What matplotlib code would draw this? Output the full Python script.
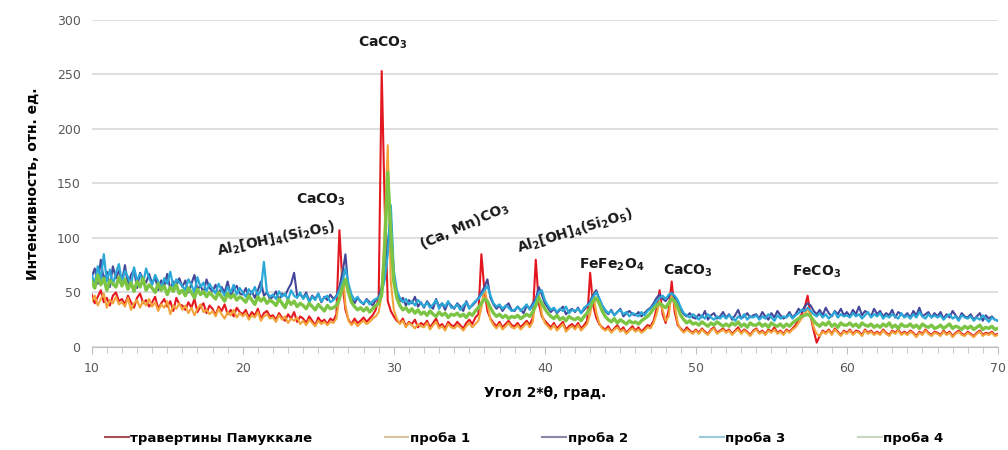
import numpy as np
import matplotlib
matplotlib.use("Agg")
import matplotlib.pyplot as plt
from matplotlib.lines import Line2D

# angle grid, 0.2 deg step (10.0 ... 70.0)
angle = np.round(np.arange(10, 70.01, 0.2), 1)

# intensities, one row = 2 degrees
travertine = [
    48, 40, 46, 52, 41, 45, 38, 47, 50, 42,
    44, 39, 47, 41, 36, 45, 49, 40, 43, 37,
    41, 46, 35, 40, 44, 37, 42, 33, 45, 39,
    38, 34, 41, 36, 44, 32, 37, 40, 31, 38,
    35, 29, 37, 33, 39, 30, 34, 28, 36, 32,
    30, 34, 27, 32, 29, 35, 26, 31, 33, 28,
    29, 25, 31, 27, 24, 30, 26, 32, 23, 28,
    26, 22, 28, 24, 20, 27, 23, 25, 21, 26,
    24, 30, 107, 58, 34, 25, 21, 26, 22, 24,
    27, 23, 26, 29, 34, 46, 253, 128, 42, 33,
    28, 24, 22, 26, 19, 23, 21, 25, 18, 22,
    20, 24, 18, 22, 26, 19, 21, 17, 23, 20,
    19, 23, 20, 17, 22, 25, 21, 27, 30, 85,
    52, 33, 26, 22, 19, 23, 18, 21, 24, 20,
    19, 22, 18, 21, 24, 20, 27, 80, 40, 28,
    24, 21, 18, 22, 17, 20, 23, 16, 19, 21,
    18, 22, 17, 20, 24, 68, 38, 27, 21, 18,
    16, 19, 14, 17, 20, 15, 18, 13, 16, 19,
    15, 18, 14, 17, 20, 19, 24, 35, 52, 30,
    22, 34, 60, 32, 20, 17, 14, 18, 15, 13,
    16, 13, 17, 14, 12, 16, 18, 13, 15, 17,
    14, 16, 12, 15, 18, 13, 16, 14, 11, 15,
    17, 13, 15, 12, 16, 14, 18, 13, 15, 12,
    16, 14, 17, 20, 25, 30, 36, 47, 28, 15,
    4, 10, 15, 13, 16, 12, 17, 14, 11, 15,
    13, 16, 12, 15, 14, 11, 16, 13, 15, 12,
    14, 12, 16, 13, 11, 15, 13, 16, 12, 14,
    12, 15, 13, 10, 14, 12, 16, 13, 11, 14,
    13, 11, 15, 12, 14, 10, 13, 15, 12, 11,
    14, 12, 10, 13, 15, 11, 13, 12, 14, 11,
    12]

sample1 = [
    42, 47, 38, 44, 49, 36, 43, 40, 46, 39,
    41, 37, 45, 34, 40, 43, 36, 42, 38, 44,
    37, 41, 33, 39, 36, 42, 30, 38, 35, 40,
    34, 38, 31, 36, 29, 35, 39, 32, 34, 30,
    33, 28, 35, 30, 26, 32, 29, 34, 27, 31,
    28, 31, 25, 29, 27, 32, 24, 28, 30, 26,
    27, 23, 29, 25, 28, 22, 26, 24, 27, 21,
    24, 20, 25, 22, 19, 24, 21, 23, 20, 23,
    22, 26, 45, 72, 38, 24, 20, 23, 19, 22,
    24, 21, 23, 26, 28, 32, 48, 110, 185, 60,
    34, 26, 21, 24, 18, 22, 20, 17, 21, 19,
    18, 22, 16, 20, 23, 17, 19, 15, 21, 18,
    17, 20, 18, 15, 19, 22, 18, 21, 24, 36,
    55, 40, 25, 20, 17, 21, 16, 19, 22, 18,
    17, 20, 16, 19, 22, 18, 23, 45, 50, 30,
    22, 19, 16, 20, 15, 18, 21, 14, 17, 19,
    16, 20, 15, 18, 21, 30, 50, 32, 22, 17,
    15, 17, 13, 16, 18, 14, 16, 12, 15, 17,
    14, 16, 13, 15, 18, 17, 22, 30, 42, 34,
    24, 28, 50, 38, 22, 16, 13, 16, 14, 12,
    15, 12, 16, 13, 11, 15, 17, 12, 14, 16,
    13, 15, 11, 14, 16, 12, 15, 13, 10, 14,
    16, 12, 14, 11, 15, 13, 16, 12, 14, 11,
    15, 13, 16, 18, 22, 26, 30, 35, 30, 18,
    12, 10, 14, 12, 15, 11, 16, 13, 10, 14,
    12, 15, 11, 14, 13, 10, 15, 12, 14, 11,
    13, 11, 15, 12, 10, 14, 12, 15, 11, 13,
    11, 14, 12, 9, 13, 11, 15, 12, 10, 13,
    12, 10, 14, 11, 13, 9, 12, 14, 11, 10,
    13, 11, 9, 12, 14, 10, 12, 11, 13, 10,
    11]

sample2 = [
    64, 72, 58, 80, 61, 69, 55, 74, 63, 70,
    60, 75, 57, 66, 71, 54, 68, 62, 59, 67,
    58, 64, 52, 61, 56, 67, 53, 60, 57, 63,
    55, 61, 50, 58, 66, 52, 57, 49, 62, 54,
    51, 57, 48, 55, 50, 60, 47, 53, 56, 49,
    48, 54, 46, 51, 45, 52, 60, 47, 50, 44,
    46, 51, 43, 49, 47, 53, 58, 68, 47, 48,
    45, 50, 42, 47, 44, 49, 41, 46, 43, 48,
    44, 47, 55, 68, 85, 52, 44, 40, 45, 42,
    39, 44, 41, 38, 43, 46, 55, 70, 95, 120,
    62, 48, 42, 45, 38, 43, 40, 46, 37, 41,
    36, 42, 38, 35, 44, 37, 40, 34, 41, 38,
    35, 40, 37, 33, 42, 36, 38, 41, 45, 50,
    55, 62, 45, 39, 35, 38, 33, 37, 40, 34,
    33, 37, 34, 31, 38, 35, 40, 44, 55, 48,
    40, 36, 32, 35, 31, 34, 37, 30, 33, 35,
    32, 36, 31, 34, 38, 42, 48, 52, 44, 38,
    33, 30, 34, 29, 32, 35, 28, 31, 33, 30,
    29, 32, 28, 31, 34, 36, 40, 45, 48, 44,
    42, 46, 50, 45, 40, 34, 30, 28, 31, 27,
    26, 30, 27, 33, 25, 29, 31, 26, 28, 32,
    27, 30, 25, 29, 34, 26, 28, 31, 27, 29,
    30, 26, 32, 28, 25, 31, 27, 33, 29, 26,
    28, 32, 27, 30, 35, 32, 37, 40, 38, 33,
    30, 34, 29, 36, 31, 28, 33, 30, 35, 29,
    32, 28, 34, 30, 37, 29, 33, 31, 28, 35,
    30, 33, 28, 31, 29, 34, 27, 32, 30, 28,
    31, 27, 33, 29, 36, 28, 30, 32, 27, 31,
    28, 32, 26, 30, 27, 33, 29, 25, 31, 28,
    27, 30, 25, 28, 31, 24, 29, 26, 28, 25,
    24]

sample3 = [
    66, 58, 74, 62, 85, 60, 71, 57, 68, 76,
    59, 70, 64, 56, 73, 61, 67, 58, 72, 63,
    57, 66, 60, 54, 63, 58, 69, 55, 62, 59,
    56, 52, 62, 57, 50, 64, 55, 59, 51, 58,
    53, 49, 58, 52, 47, 55, 50, 57, 48, 54,
    50, 46, 53, 49, 55, 47, 52, 78, 50, 46,
    48, 44, 51, 46, 49, 43, 52, 47, 45, 50,
    44, 48, 41, 46, 43, 49, 42, 45, 47, 41,
    43, 46, 52, 60, 72, 58, 48, 43, 46, 41,
    40, 43, 39, 42, 44, 45, 50, 62, 85, 130,
    70, 52, 45, 41, 44, 39, 42, 38, 43, 40,
    37, 41, 36, 39, 43, 35, 40, 37, 42, 36,
    36, 39, 34, 38, 41, 35, 39, 42, 44, 48,
    52, 56, 47, 40, 37, 39, 35, 38, 36, 33,
    34, 37, 33, 36, 39, 34, 38, 42, 50, 52,
    43, 38, 34, 36, 32, 35, 33, 37, 31, 34,
    33, 35, 31, 36, 38, 40, 46, 50, 45, 38,
    34, 31, 33, 29, 32, 34, 30, 32, 28, 31,
    30, 28, 32, 29, 33, 35, 38, 42, 45, 47,
    44, 48, 49, 47, 43, 36, 31, 29, 27, 30,
    28, 25, 29, 26, 30, 27, 25, 28, 26, 29,
    26, 29, 27, 24, 28, 26, 30, 25, 28, 27,
    29, 25, 28, 26, 30, 27, 24, 29, 26, 28,
    27, 30, 26, 29, 31, 34, 33, 36, 33, 30,
    28, 31, 27, 30, 26, 29, 32, 27, 30, 28,
    29, 27, 31, 28, 30, 26, 29, 32, 27, 30,
    28, 31, 26, 29, 27, 30, 28, 26, 31, 27,
    29, 26, 30, 27, 32, 28, 26, 30, 27, 29,
    27, 29, 25, 28, 30, 26, 28, 24, 29, 27,
    26, 28, 24, 27, 25, 29, 26, 23, 27, 25,
    24]

sample4 = [
    60, 54, 66, 57, 63, 52, 61, 58, 55, 64,
    56, 62, 53, 59, 51, 60, 55, 63, 52, 57,
    54, 50, 58, 52, 56, 48, 55, 51, 57, 49,
    52, 47, 54, 50, 45, 53, 48, 51, 46, 50,
    47, 44, 50, 46, 42, 49, 45, 48, 43, 46,
    44, 41, 47, 43, 39, 46, 42, 45, 40, 43,
    41, 38, 44, 40, 36, 43, 39, 42, 37, 40,
    38, 35, 40, 37, 34, 39, 36, 33, 38, 35,
    36, 38, 44, 55, 62, 50, 41, 37, 34, 36,
    33, 36, 32, 35, 38, 40, 48, 90, 160, 105,
    60, 45, 38, 34, 36, 32, 35, 31, 34, 30,
    32, 29, 33, 30, 28, 32, 29, 31, 27, 30,
    29, 31, 28, 30, 27, 31, 29, 33, 36, 40,
    44, 42, 36, 31, 28, 30, 27, 29, 26, 28,
    27, 29, 26, 28, 30, 28, 32, 38, 45, 40,
    35, 31, 28, 26, 29, 25, 27, 24, 28, 26,
    25, 27, 24, 28, 31, 36, 42, 45, 40, 33,
    28, 25, 23, 26, 22, 25, 23, 21, 24, 22,
    23, 21, 24, 26, 28, 31, 35, 38, 40, 38,
    36, 40, 44, 42, 36, 29, 25, 22, 24, 21,
    22, 20, 23, 21, 19, 22, 20, 23, 21, 19,
    21, 19, 22, 20, 23, 19, 21, 18, 22, 20,
    20, 22, 19, 21, 18, 22, 20, 19, 21, 18,
    21, 19, 22, 24, 26, 28, 29, 30, 28, 24,
    21, 19, 22, 20, 23, 19, 21, 18, 22, 20,
    20, 22, 19, 21, 18, 22, 20, 19, 21, 18,
    20, 18, 21, 19, 22, 18, 20, 17, 21, 19,
    19, 21, 18, 20, 17, 21, 19, 18, 20, 17,
    18, 20, 17, 19, 21, 17, 19, 18, 16, 19,
    17, 19, 16, 18, 20, 16, 18, 17, 19, 16,
    17]

names = ["травертины Памуккале", "проба 1", "проба 2", "проба 3", "проба 4"]
series = [travertine, sample1, sample2, sample3, sample4]
line_colors = ["#e3171f", "#f2a33a", "#45479a", "#2aa8d8", "#7cc444"]
line_widths = [1.5, 1.5, 1.5, 1.6, 2.4]
legend_colors = ["#a4535b", "#d8c49e", "#8a88a6", "#9ccad6", "#c9d6c2"]

# peak labels: text, angle, intensity, rotation
labels = [
    (r"CaCO$_\mathbf{3}$", 29.3, 279, 0),
    (r"CaCO$_\mathbf{3}$", 25.2, 135, 0),
    (r"Al$_\mathbf{2}$[OH]$_\mathbf{4}$(Si$_\mathbf{2}$O$_\mathbf{5}$)", 22.2, 99, 12),
    (r"(Ca, Mn)CO$_\mathbf{3}$", 34.7, 110, 24),
    (r"Al$_\mathbf{2}$[OH]$_\mathbf{4}$(Si$_\mathbf{2}$O$_\mathbf{5}$)", 42.0, 106, 17),
    (r"FeFe$_\mathbf{2}$O$_\mathbf{4}$", 44.4, 75, 0),
    (r"CaCO$_\mathbf{3}$", 49.5, 70, 0),
    (r"FeCO$_\mathbf{3}$", 58.0, 69, 0),
]

fig = plt.figure(figsize=(10.08, 4.5), dpi=100)
ax = fig.add_axes([0.091, 0.229, 0.899, 0.727])

for vals, c, w in zip(series, line_colors, line_widths):
    ax.plot(angle, vals, color=c, lw=w)

ax.set_xlim(10, 70)
ax.set_ylim(0, 300)
ax.set_xticks(range(10, 71, 10))
ax.set_xticks(range(10, 71, 1), minor=True)
ax.set_yticks(range(0, 301, 50))
ax.yaxis.grid(True, color="#d9d9d9", lw=1.2)
ax.set_axisbelow(True)
for s in ["top", "right", "left"]:
    ax.spines[s].set_visible(False)
ax.spines["bottom"].set_color("#bfbfbf")
ax.tick_params(axis="y", length=0, labelsize=9, labelcolor="#595959", pad=8)
ax.tick_params(axis="x", which="major", length=5, color="#bfbfbf",
               labelsize=9, labelcolor="#595959", pad=6)
ax.tick_params(axis="x", which="minor", length=4, color="#bfbfbf")

ax.set_xlabel("Угол 2*θ, град.", fontsize=10, fontweight="bold", labelpad=8)
ax.set_ylabel("Интенсивность, отн. ед.", fontsize=10, fontweight="bold", labelpad=12)

for txt, xa, ya, rot in labels:
    ax.text(xa, ya, txt, fontsize=10, fontweight="bold", ha="center", va="center",
            rotation=rot, color="#1a1a1a")

handles = [Line2D([0], [0], color=c, lw=1.5) for c in legend_colors]
fig.legend(handles, names, loc="lower center", bbox_to_anchor=(0.52, -0.015),
           ncol=5, frameon=False, handlelength=1.8, handletextpad=0.1,
           columnspacing=5.5, prop={"weight": "bold", "size": 9.5})

fig.savefig("out.png", dpi=100)
